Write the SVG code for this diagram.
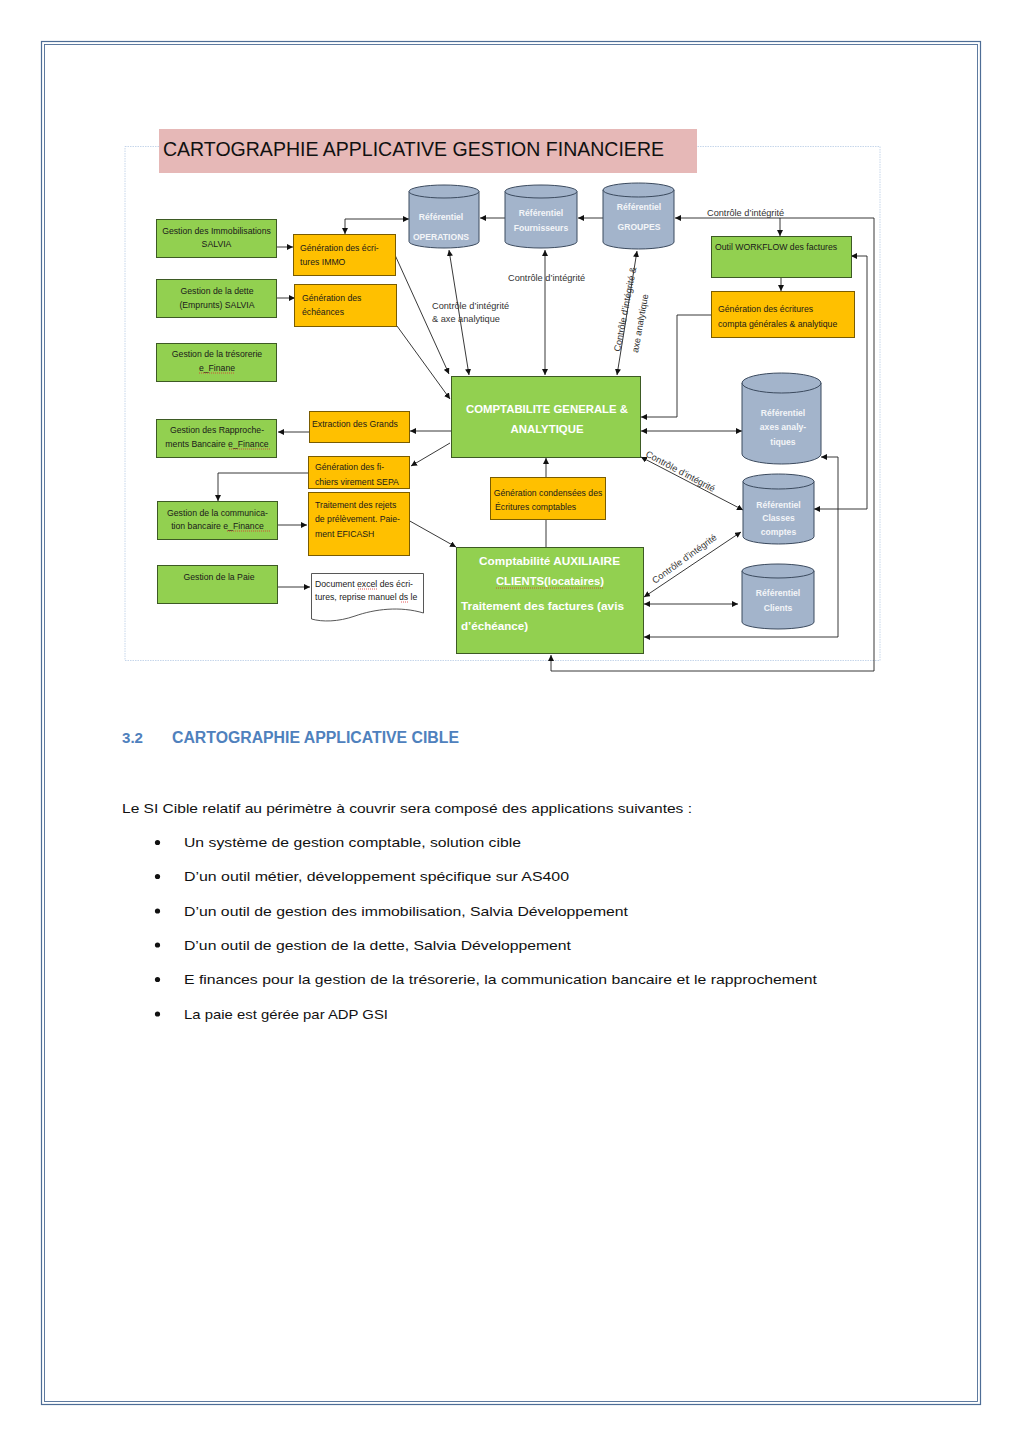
<svg xmlns="http://www.w3.org/2000/svg" width="1023" height="1447" viewBox="0 0 1023 1447">
<defs>
<marker id="a" viewBox="0 0 6 6" refX="6" refY="3" markerWidth="6" markerHeight="6" markerUnits="userSpaceOnUse" orient="auto-start-reverse">
<path d="M0,0 L6,3 L0,6 z" fill="#111"/>
</marker>
<style>
.t{font-family:"Liberation Sans",Arial,sans-serif;font-size:8.7px;fill:#1a1a1a}
.c{text-anchor:middle}
.g{fill:#92d050;stroke:#3d5a24;stroke-width:1}
.o{fill:#ffc000;stroke:#7a5c00;stroke-width:1}
.cy{fill:#a3b4cb;stroke:#3b4a5e;stroke-width:1}
.ct{font-family:"Liberation Sans",Arial,sans-serif;font-size:8.6px;font-weight:bold;fill:#f3f5f8;text-anchor:middle}
.w{font-family:"Liberation Sans",Arial,sans-serif;font-size:11px;font-weight:bold;fill:#ffffff}
.l{font-family:"Liberation Sans",Arial,sans-serif;font-size:9.2px;fill:#333}
.ln{fill:none;stroke:#222;stroke-width:0.9}
.ar{marker-end:url(#a)}
.bi{marker-start:url(#a);marker-end:url(#a)}
.sq{fill:none;stroke:#e03030;stroke-width:0.8;stroke-dasharray:1 1}
.p{font-family:"Liberation Sans",Arial,sans-serif;font-size:13.5px;fill:#111}
</style>
</defs>
<rect width="1023" height="1447" fill="#ffffff"/>
<rect x="41.5" y="41.5" width="939" height="1363" fill="none" stroke="#4e6d96" stroke-width="1.2"/>
<rect x="44.5" y="44.5" width="933" height="1357" fill="none" stroke="#4e6d96" stroke-width="0.9"/>
<rect x="125" y="146.5" width="755" height="514" fill="none" stroke="#b8cce4" stroke-width="0.8" stroke-dasharray="1.5 1"/>

<g id="title">
<rect x="159" y="129" width="538" height="44" fill="#e6b8b7"/>
<text x="163" y="156" font-family="Liberation Sans,Arial,sans-serif" font-size="20" fill="#111" textLength="501" lengthAdjust="spacingAndGlyphs">CARTOGRAPHIE APPLICATIVE  GESTION FINANCIERE</text>
</g>

<g id="connectors">
<path class="ln ar" d="M276,247 H293"/>
<path class="ln ar" d="M277,298 H295"/>
<path class="ln bi" d="M345,234 V219 H409"/>
<path class="ln ar" d="M395,255 L449,374"/>
<path class="ln ar" d="M397,326 L450,399"/>
<path class="ln bi" d="M449,250 L469,375"/>
<path class="ln bi" d="M545,250 V375"/>
<path class="ln bi" d="M637,251 L617,375"/>
<path class="ln bi" d="M675,218 H874 V671 H551 V655"/>
<path class="ln ar" d="M604,218 H578"/>
<path class="ln ar" d="M505,218 H480"/>
<path class="ln ar" d="M780,218 V236"/>
<path class="ln ar" d="M781,277 V291"/>
<path class="ln ar" d="M711,315 H677 V417 H641" stroke="#555"/>
<path class="ln bi" d="M641,431 H742"/>
<path class="ln bi" d="M851,256 H867 V509 H814"/>
<path class="ln bi" d="M821,457 H838 V637 H644"/>
<path class="ln bi" d="M641,457 L743,510"/>
<path class="ln bi" d="M644,597 L741,532"/>
<path class="ln bi" d="M644,604 H738"/>
<path class="ln ar" d="M451,431 H410"/>
<path class="ln ar" d="M309,432 H278"/>
<path class="ln ar" d="M450,443 L411,466"/>
<path class="ln ar" d="M308,473 H218 V501"/>
<path class="ln ar" d="M278,525 H307"/>
<path class="ln ar" d="M408,520 L456,547"/>
<path class="ln ar" d="M278,587 H310"/>
<path class="ln" d="M546,547 V519"/>
<path class="ln ar" d="M546,477 V458"/>
<text class="l" x="707" y="215.5">Contrôle d’intégrité</text>
<text class="l" x="508" y="281">Contrôle d’intégrité</text>
<text class="l" x="432" y="309">Contrôle d’intégrité</text>
<text class="l" x="432" y="322">&amp; axe analytique</text>
<text class="l" transform="translate(620,352) rotate(-79)">Contrôle d’intégrité &amp;</text>
<text class="l" transform="translate(638,353) rotate(-80)">axe analytique</text>
<text class="l" transform="translate(645,456) rotate(28)">Contrôle d’intégrité</text>
<text class="l" transform="translate(655,584) rotate(-36)">Contrôle d’intégrité</text>
</g>

<g id="immo">
<rect class="g" x="156.5" y="219.5" width="120" height="38"/>
<text class="t c" x="216.5" y="234">Gestion des Immobilisations</text>
<text class="t c" x="216.5" y="247">SALVIA</text>
</g>
<g id="dette">
<rect class="g" x="156.5" y="279.5" width="120" height="38"/>
<text class="t c" x="217" y="294">Gestion de la dette</text>
<text class="t c" x="217" y="308">(Emprunts)  SALVIA</text>
</g>
<g id="tresorerie">
<rect class="g" x="156.5" y="343.5" width="120" height="38"/>
<text class="t c" x="217" y="357">Gestion de la trésorerie</text>
<text class="t c" x="217" y="371">e_Finane</text>
<path class="sq" d="M199,373 H235"/>
</g>
<g id="rapprochement">
<rect class="g" x="156.5" y="419.5" width="120" height="38"/>
<text class="t c" x="217" y="433">Gestion des Rapproche-</text>
<text class="t c" x="217" y="447">ments Bancaire e_Finance</text>
<path class="sq" d="M229,449 H271"/>
</g>
<g id="communication">
<rect class="g" x="157.5" y="501.5" width="120" height="38"/>
<text class="t c" x="217.5" y="516">Gestion de la communica-</text>
<text class="t c" x="217.5" y="529">tion bancaire  e_Finance</text>
<path class="sq" d="M227,531 H270"/>
</g>
<g id="paie">
<rect class="g" x="157.5" y="565.5" width="120" height="38"/>
<text class="t c" x="219" y="580">Gestion de la Paie</text>
</g>

<g id="gen-immo">
<rect class="o" x="293.5" y="234.5" width="102" height="41"/>
<text class="t" x="300" y="251">Génération  des écri-</text>
<text class="t" x="300" y="265">tures IMMO</text>
</g>
<g id="gen-echeances">
<rect class="o" x="294.5" y="284.5" width="102" height="42"/>
<text class="t" x="302" y="301">Génération  des</text>
<text class="t" x="302" y="315">échéances</text>
</g>
<g id="extraction">
<rect class="o" x="309.5" y="411.5" width="100" height="31"/>
<text class="t" x="312" y="427">Extraction des Grands</text>
</g>
<g id="sepa">
<rect class="o" x="308.5" y="456.5" width="101" height="32"/>
<text class="t" x="315" y="470">Génération des fi-</text>
<text class="t" x="315" y="485">chiers virement SEPA</text>
</g>
<g id="rejets">
<rect class="o" x="308.5" y="492.5" width="101" height="63"/>
<text class="t" x="315" y="508">Traitement des rejets</text>
<text class="t" x="315" y="522">de prélèvement. Paie-</text>
<text class="t" x="315" y="537">ment EFICASH</text>
</g>
<g id="document">
<path d="M311.5,573.5 H423.5 V613 C400,606 375,609 355,616 C338,622 322,622 311.5,619 Z" fill="#ffffff" stroke="#444" stroke-width="0.9"/>
<text class="t" x="315" y="587">Document excel des écri-</text>
<text class="t" x="315" y="600">tures, reprise manuel ds le</text>
<path class="sq" d="M358,589 H378"/>
<path class="sq" d="M401,602 H409"/>
</g>

<g id="compta-generale">
<rect class="g" x="451.5" y="376.5" width="189" height="81"/>
<text class="w c" x="547" y="413" textLength="162" lengthAdjust="spacingAndGlyphs">COMPTABILITE GENERALE  &amp;</text>
<text class="w c" x="547" y="433" textLength="73" lengthAdjust="spacingAndGlyphs">ANALYTIQUE</text>
</g>
<g id="gen-condensees">
<rect class="o" x="490.5" y="477.5" width="115" height="42"/>
<text class="t c" x="548" y="496">Génération condensées des</text>
<text class="t" x="495" y="510">Écritures comptables</text>
</g>
<g id="compta-auxiliaire">
<rect class="g" x="456.5" y="547.5" width="187" height="106"/>
<text class="w" x="479" y="565" textLength="141" lengthAdjust="spacingAndGlyphs">Comptabilité AUXILIAIRE</text>
<text class="w" x="496" y="585" textLength="108" lengthAdjust="spacingAndGlyphs">CLIENTS(locataires)</text>
<path class="sq" d="M496,588 H604"/>
<text class="w" x="461" y="610" textLength="163" lengthAdjust="spacingAndGlyphs">Traitement des factures (avis</text>
<text class="w" x="461" y="630" textLength="67" lengthAdjust="spacingAndGlyphs">d’échéance)</text>
</g>

<g id="workflow">
<rect class="g" x="711.5" y="236.5" width="140" height="41"/>
<text class="t" x="715" y="250">Outil WORKFLOW des factures</text>
</g>
<g id="gen-compta">
<rect class="o" x="711.5" y="291.5" width="143" height="46"/>
<text class="t" x="718" y="312">Génération  des écritures</text>
<text class="t" x="718" y="327">compta générales &amp; analytique</text>
</g>

<g id="ref-operations">
<path class="cy" d="M409,191.5 V241.5 A35,6.5 0 0 0 479,241.5 V191.5 Z"/>
<ellipse class="cy" cx="444" cy="191.5" rx="35" ry="6.5"/>
<text class="ct" x="441" y="220">Référentiel</text>
<text class="ct" x="441" y="240">OPERATIONS</text>
</g>
<g id="ref-fournisseurs">
<path class="cy" d="M505,191.5 V241.5 A36,6.5 0 0 0 577,241.5 V191.5 Z"/>
<ellipse class="cy" cx="541" cy="191.5" rx="36" ry="6.5"/>
<text class="ct" x="541" y="216">Référentiel</text>
<text class="ct" x="541" y="231">Fournisseurs</text>
</g>
<g id="ref-groupes">
<path class="cy" d="M603,190 V242 A35.5,7 0 0 0 674,242 V190 Z"/>
<ellipse class="cy" cx="638.5" cy="190" rx="35.5" ry="7"/>
<text class="ct" x="639" y="210">Référentiel</text>
<text class="ct" x="639" y="230">GROUPES</text>
</g>
<g id="ref-axes">
<path class="cy" d="M742,383 V454 A39.5,10 0 0 0 821,454 V383 Z"/>
<ellipse class="cy" cx="781.5" cy="383" rx="39.5" ry="10"/>
<text class="ct" x="783" y="416">Référentiel</text>
<text class="ct" x="783" y="430">axes analy-</text>
<text class="ct" x="783" y="445">tiques</text>
</g>
<g id="ref-classes">
<path class="cy" d="M743,481.5 V536.5 A35.5,7.5 0 0 0 814,536.5 V481.5 Z"/>
<ellipse class="cy" cx="778.5" cy="481.5" rx="35.5" ry="7.5"/>
<text class="ct" x="778.5" y="508">Référentiel</text>
<text class="ct" x="778.5" y="521">Classes</text>
<text class="ct" x="778.5" y="535">comptes</text>
</g>
<g id="ref-clients">
<path class="cy" d="M742,571 V622 A36,7 0 0 0 814,622 V571 Z"/>
<ellipse class="cy" cx="778" cy="571" rx="36" ry="7"/>
<text class="ct" x="778" y="596">Référentiel</text>
<text class="ct" x="778" y="611">Clients</text>
</g>

<g id="section">
<text x="122" y="743" font-family="Liberation Sans,Arial,sans-serif" font-size="15" font-weight="bold" fill="#4f81bd" textLength="21" lengthAdjust="spacingAndGlyphs">3.2</text>
<text x="172" y="743" font-family="Liberation Sans,Arial,sans-serif" font-size="16" font-weight="bold" fill="#4f81bd" textLength="287" lengthAdjust="spacingAndGlyphs">CARTOGRAPHIE APPLICATIVE CIBLE</text>
<text class="p" x="122" y="813" textLength="570" lengthAdjust="spacingAndGlyphs">Le SI Cible relatif au périmètre à couvrir sera composé des applications suivantes :</text>
<g fill="#111">
<circle cx="157.5" cy="842.5" r="2.6"/>
<circle cx="157.5" cy="876.5" r="2.6"/>
<circle cx="157.5" cy="911" r="2.6"/>
<circle cx="157.5" cy="945" r="2.6"/>
<circle cx="157.5" cy="979.5" r="2.6"/>
<circle cx="157.5" cy="1014" r="2.6"/>
</g>
<text class="p" x="184" y="847" textLength="337" lengthAdjust="spacingAndGlyphs">Un système de gestion comptable, solution cible</text>
<text class="p" x="184" y="881" textLength="385" lengthAdjust="spacingAndGlyphs">D’un outil métier, développement spécifique sur AS400</text>
<text class="p" x="184" y="916" textLength="444" lengthAdjust="spacingAndGlyphs">D’un outil de gestion des immobilisation, Salvia Développement</text>
<text class="p" x="184" y="950" textLength="387" lengthAdjust="spacingAndGlyphs">D’un outil de gestion de la dette, Salvia Développement</text>
<text class="p" x="184" y="984" textLength="633" lengthAdjust="spacingAndGlyphs">E finances pour la gestion de la trésorerie, la communication bancaire et le rapprochement</text>
<text class="p" x="184" y="1019" textLength="204" lengthAdjust="spacingAndGlyphs">La paie est gérée par ADP GSI</text>
</g>
</svg>
